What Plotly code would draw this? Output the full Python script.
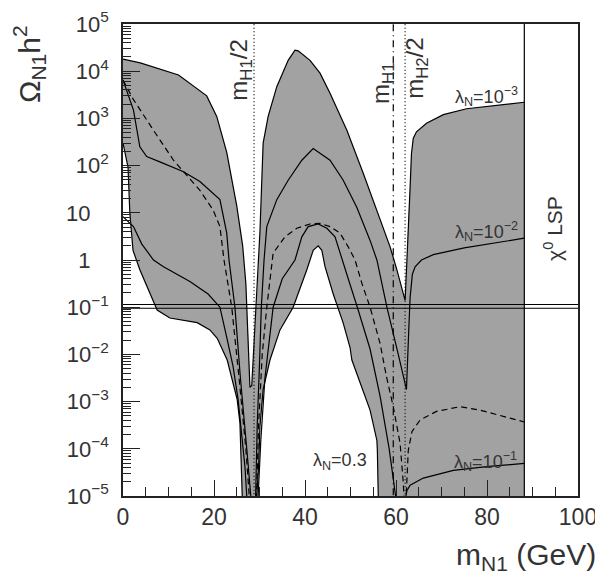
import plotly.graph_objects as go

# ---- reference lines (GeV) and relic-density band ----
m_h1_half = 28.8
m_h1 = 59.4
m_h2_half = 62.0
chi_lsp = 88.2
omega_band = [0.095, 0.114]

# ---- lambda_N = 1e-3 (upper edge of shaded region) ----
lam3_x = [0, 3.8, 12.2, 16.2, 18.4, 20.6, 22.8, 25.0, 26.3, 27.0, 27.5, 27.9, 28.3, 29.0, 29.7, 30.1,
          30.8, 31.9, 33.8, 36.3, 37.8, 38.5, 41.1, 43.3, 45.5, 49.2, 52.8, 56.5, 58.7, 60.2, 61.6,
          62.0, 62.4, 62.7, 63.1, 63.4, 63.8, 64.5, 66.7, 70.4, 75.5, 88.2]
lam3_y = [1.8e4, 1.5e4, 8.3e3, 4.2e3, 3.0e3, 1.1e3, 190, 14, 2.0, 0.32, 0.025, 2.0e-3, 2.2e-3, 0.032, 0.5, 4.0,
          300, 1.1e3, 4.7e3, 1.7e4, 2.8e4, 2.7e4, 1.7e4, 9.1e3, 3.4e3, 560, 69, 7.1, 1.9, 0.62, 0.19,
          0.14, 1.0, 7.1, 35, 180, 380, 520, 790, 1.2e3, 1.6e3, 2.2e3]

# ---- lambda_N = 1e-2 ----
lam2_x = [0, 2.3, 3.7, 5.2, 8.1, 13.3, 16.9, 21.3, 22.8, 23.3, 24.6, 25.8, 27.2, 28.3, 28.8, 29.1, 29.5,
          30.0, 30.4, 31.0, 31.6, 33.8, 36.3, 39.3, 41.8, 45.5, 48.4, 51.4, 54.3, 55.8, 58.0, 60.5,
          62.3, 62.8, 63.1, 63.6, 64.2, 65.6, 68.2, 75.0, 88.2]
lam2_y = [6.5e3, 1.5e3, 250, 155, 120, 74, 46, 19, 3.7, 1.0, 0.1, 3.2e-3, 1e-4, 6.3e-6, 1.6e-6, 6.3e-6, 3.2e-4,
          6.3e-3, 0.1, 1.0, 5.1, 19, 49, 130, 230, 130, 49, 13, 2.6, 1.0, 0.1, 0.01,
          1.8e-3, 0.032, 0.16, 0.5, 0.72, 1.0, 1.3, 1.8, 2.9]

# ---- dashed curve ----
dash_x = [0.0, 2.3, 6.7, 11.1, 13.6, 16.9, 19.8, 21.3, 22.2, 23.9, 25.5, 27.0, 27.9, 28.8, 29.3, 29.8,
          30.6, 31.6, 33.0, 35.6, 38.2, 41.1, 43.3, 45.5, 47.7, 49.5, 51.0, 52.5, 54.3, 56.5, 57.9,
          59.4, 60.9, 61.6, 62.0, 62.4, 62.7, 63.5, 65.3, 68.9, 74.1, 78.5, 83.6, 88.2]
dash_y = [6.5e3, 2.5e3, 560, 130, 69, 30, 11.5, 5.1, 1.0, 0.1, 3.2e-3, 1e-4, 6.3e-6, 1.6e-6, 6.3e-6, 3.2e-4,
          0.01, 0.1, 1.4, 3.1, 4.7, 5.8, 6.0, 5.1, 3.7, 1.9, 1.0, 0.32, 0.1, 0.017, 3.4e-3,
          7.8e-4, 1.3e-4, 1.9e-5, 3.2e-6, 2e-5, 9.3e-5, 2.3e-4, 4.1e-4, 6.2e-4, 7.8e-4, 6.6e-4, 4.8e-4, 3.7e-4]

# ---- lambda_N = 1e-1 ----
lam1_x = [0, 2.3, 4.1, 6.7, 8.9, 14.7, 18.7, 21.3, 22.8, 24.2, 25.3, 26.1, 26.8, 27.2, 27.6, 29.6, 30.3,
          31.2, 33.0, 35.0, 37.8, 39.3, 40.7, 42.9, 44.8, 46.6, 47.7, 48.1, 49.5, 51.5, 54.3, 56.5,
          58.5, 60.2, 61.0, 61.8, 62.4, 63.1, 66.0, 72.6, 79.9, 88.2]
lam1_y = [8.3, 5.1, 2.2, 1.0, 0.72, 0.35, 0.19, 0.1, 0.023, 5.5e-3, 1.1e-3, 2.1e-4, 4.2e-5, 1e-5, 1.6e-6, 6.3e-6, 1.6e-4,
          3.2e-3, 0.1, 0.4, 1.0, 3.1, 5.1, 5.8, 4.7, 3.1, 1.4, 1.0, 0.4, 0.1, 0.013, 1.3e-3,
          1e-4, 6.3e-6, 1.6e-6, 6.3e-6, 1.3e-5, 1.7e-5, 2.4e-5, 3.5e-5, 4.2e-5, 4.9e-5]

# ---- lambda_N = 0.3 (lower edge of shaded region) ----
lam03_left_x = [0, 1.1, 1.5, 2.2, 3.7, 5.3, 7.5, 10.3, 16.3, 19.1, 20.7, 22.9, 25.1, 25.7, 26.2, 26.4]
lam03_left_y = [300, 93, 10, 1.6, 0.62, 0.27, 0.087, 0.059, 0.047, 0.033, 0.022, 7.6e-3, 1.1e-3, 3.5e-4, 1e-5, 2.5e-6]
lam03_mid_x = [29.2, 29.4, 29.8, 30.1, 30.8, 32.3, 34.5, 37.4, 40.4, 41.8, 42.9, 43.7, 44.4, 46.2, 48.4,
               49.9, 50.3, 52.1, 54.3, 55.8, 55.9, 56.1, 56.2]
lam03_mid_y = [2.5e-6, 1e-5, 4.2e-5, 3e-4, 1.8e-3, 7.6e-3, 0.033, 0.1, 0.62, 1.6, 2.0, 1.6, 0.72, 0.19, 0.046,
               0.014, 7.6e-3, 2.5e-3, 6.6e-4, 1.5e-4, 9.3e-5, 1e-5, 2.5e-6]

# ---- axis ticks ----
y_tick_vals = [1e-5, 1e-4, 1e-3, 1e-2, 1e-1, 1, 10, 1e2, 1e3, 1e4, 1e5]
y_tick_text = ["10<sup>\u22125</sup>", "10<sup>\u22124</sup>", "10<sup>\u22123</sup>", "10<sup>\u22122</sup>",
               "10<sup>\u22121</sup>", "1\u00a0\u00a0\u00a0", "10\u00a0\u00a0\u00a0", "10<sup>2</sup>", "10<sup>3</sup>",
               "10<sup>4</sup>", "10<sup>5</sup>"]
x_tick_vals = [0, 20, 40, 60, 80, 100]

FONT = "Liberation Sans"
TXT = "#333333"
GREY = "#a2a2a2"

# figure is 595x571 (the page body adds 8px); plot area at x 115-570, y 16-488 of the figure
W, H = 595, 571
PL, PR, PT, PB = 115, 570, 16, 488

fig = go.Figure()

# shaded region
fill_x = lam3_x + [chi_lsp, chi_lsp] + lam03_mid_x[::-1] + lam03_left_x[::-1]
fill_y = lam3_y + [lam3_y[-1], 1e-6] + lam03_mid_y[::-1] + lam03_left_y[::-1]
fig.add_trace(go.Scatter(x=fill_x, y=fill_y, fill="toself", fillcolor=GREY, mode="none",
                         hoverinfo="skip"))

line_solid = dict(color="black", width=1.2)
line_dashed = dict(color="black", width=1.2, dash="6px,4px")

for xs, ys, ln in [(lam3_x, lam3_y, line_solid), (lam2_x, lam2_y, line_solid),
                   (dash_x, dash_y, line_dashed), (lam1_x, lam1_y, line_solid),
                   (lam03_left_x, lam03_left_y, line_solid), (lam03_mid_x, lam03_mid_y, line_solid)]:
    fig.add_trace(go.Scatter(x=xs, y=ys, mode="lines", line=ln, hoverinfo="skip"))

# relic density band
for om in omega_band:
    fig.add_trace(go.Scatter(x=[0, 100], y=[om, om], mode="lines",
                             line=dict(color="black", width=1), hoverinfo="skip"))

# vertical lines
fig.add_trace(go.Scatter(x=[m_h1_half, m_h1_half], y=[1e-6, 1e6], mode="lines",
                         line=dict(color="black", width=1.2, dash="1px,2.5px")))
fig.add_trace(go.Scatter(x=[m_h2_half, m_h2_half], y=[1e-6, 1e6], mode="lines",
                         line=dict(color="black", width=1.2, dash="1px,2.5px")))
fig.add_trace(go.Scatter(x=[m_h1, m_h1], y=[1e-6, 1e6], mode="lines",
                         line=dict(color="black", width=1.2, dash="7px,4px,1px,4px")))
fig.add_trace(go.Scatter(x=[chi_lsp, chi_lsp], y=[1e-6, 1e6], mode="lines",
                         line=dict(color="black", width=1.2)))

ann = []
def label(x, ylog, text, size, angle=0, xanchor="center", yanchor="middle", xref="x", yref="y"):
    ann.append(dict(x=x, y=ylog, xref=xref, yref=yref, text=text, showarrow=False, textangle=angle,
                    xanchor=xanchor, yanchor=yanchor, font=dict(family=FONT, size=size, color=TXT)))

label(25.9, 4.03, "m<sub>H1</sub>/2", 24, -90)
label(56.9, 3.75, "m<sub>H1</sub>", 24, -90)
label(64.6, 4.07, "m<sub>H2</sub>/2", 24, -90)
label(79.8, 3.47, "\u03bb<sub>N</sub>=10<sup>\u22123</sup>", 18)
label(79.8, 0.61, "\u03bb<sub>N</sub>=10<sup>\u22122</sup>", 18)
label(79.6, -4.26, "\u03bb<sub>N</sub>=10<sup>\u22121</sup>", 18)
label(47.7, -4.26, "\u03bb<sub>N</sub>=0.3", 18)
label(94.5, 0.68, "\u03c7<sup>0</sup> LSP", 21, -90)
# axis titles in paper units (paper spans the whole figure because margins are zero)
label(21 / W, 1 - 56 / H, "\u03a9<sub>N1</sub>h<sup>2</sup>", 30, -90, xref="paper", yref="paper")
label(590 / W, 0.004, "m<sub>N1</sub> (GeV)", 30, 0, xanchor="right", yanchor="bottom",
      xref="paper", yref="paper")

fig.update_layout(
    width=W, height=H,
    margin=dict(l=0, r=0, t=0, b=0, pad=0, autoexpand=False),
    paper_bgcolor="white", plot_bgcolor="white",
    showlegend=False, hovermode=False,
    annotations=ann,
    font=dict(family=FONT, color=TXT),
)
fig.update_xaxes(domain=[PL / W, PR / W], range=[0, 100], tickvals=x_tick_vals, ticks="inside",
                 ticklen=16, tickwidth=1,
                 tickcolor="#222", showline=True, linewidth=1.5, linecolor="#222", mirror=True,
                 showgrid=False, zeroline=False, tickfont=dict(family=FONT, size=23, color=TXT),
                 automargin=False, ticklabelstandoff=0, ticklabeloverflow="allow",
                 minor=dict(dtick=5, ticks="inside", ticklen=9, tickwidth=1, tickcolor="#222", showgrid=False))
fig.update_yaxes(domain=[1 - PB / H, 1 - PT / H], type="log", range=[-5, 5],
                 tickvals=y_tick_vals, ticktext=y_tick_text,
                 ticks="inside", ticklen=17, tickwidth=1, tickcolor="#222",
                 showline=True, linewidth=1.5, linecolor="#222", mirror=True,
                 showgrid=False, zeroline=False, tickfont=dict(family=FONT, size=22, color=TXT),
                 automargin=False, ticklabelstandoff=8, ticklabeloverflow="allow",
                 minor=dict(tickvals=[m * 10.0 ** e for e in range(-5, 5) for m in range(2, 10)],
                            ticks="inside", ticklen=8, tickwidth=1, tickcolor="#222", showgrid=False))

fig.write_html("out.html")
